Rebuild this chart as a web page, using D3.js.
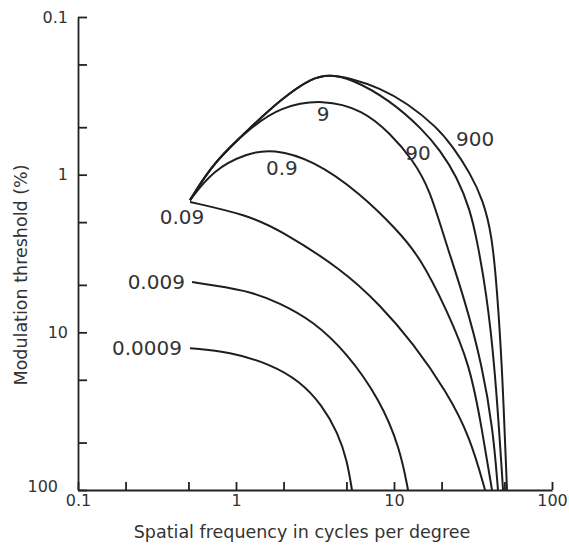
<!DOCTYPE html>
<html lang="en">

<head>
  <title>Modulation threshold</title>
  <script src="https://d3js.org/d3.v7.min.js"></script>
  <style>
    body { margin: 0; background: #fff; }
    text { font-family: "DejaVu Sans", sans-serif; fill: #333; }
  </style>
</head>

<body>
  <script>
    // Curve labels (luminance) and their frequency / threshold points
    const curveNames = ["0.0009", "0.009", "0.09", "0.9", "9", "90", "900"];

    const freq0009 = [0.512, 0.916, 1.641, 2.54, 3.5, 4.42, 5.04, 5.42];
    const thr0009 = [12.6, 13.3, 15.9, 20.4, 28.9, 43.5, 64.6, 100];

    const freq009 = [0.527, 1.175, 1.897, 3.07, 5.04, 8.15, 10.9, 12.27];
    const thr009 = [4.8, 5.39, 6.52, 8.47, 13.5, 26.8, 54.2, 100];

    const freq09 = [0.512, 1.175, 1.897, 4.76, 8.15, 13.2, 21.6, 30.3, 37.7];
    const thr09 = [1.49, 1.8, 2.24, 4.03, 6.71, 11.7, 23.9, 46.1, 100];

    const freq9a = [0.512, 0.715, 1.175, 1.714, 3.07, 6.1, 10.45, 14.6, 21.6, 30.3, 36.1, 41.7];
    const thr9a = [1.45, 0.933, 0.73, 0.687, 0.807, 1.31, 2.24, 3.33, 7.22, 16.1, 41.6, 100];

    const freq9 = [0.512, 0.715, 1.227, 1.897, 3.55, 6.37, 9.43, 13.2, 16.9, 21.0, 28.1, 36.1, 42.4, 45.5];
    const thr9 = [1.45, 0.843, 0.506, 0.372, 0.331, 0.389, 0.545, 0.807, 1.25, 2.6, 6.24, 16.1, 41.6, 100];

    const freq90 = [0.512, 0.715, 1.227, 1.897, 3.07, 3.94, 5.27, 9.43, 15.3, 19.5, 25.1, 30.3, 33.5, 38.2, 43.5, 49.0];
    const thr90 = [1.45, 0.843, 0.506, 0.336, 0.24, 0.233, 0.244, 0.336, 0.521, 0.698, 1.035, 1.67, 2.6, 5.39, 16.1, 100];

    const freq900 = [0.512, 0.715, 1.227, 1.897, 3.07, 3.94, 5.27, 8.15, 12.08, 18.7, 23.6, 30.3, 36.6, 41.7, 44.9, 48.3, 51.9];
    const thr900 = [1.45, 0.843, 0.506, 0.336, 0.24, 0.233, 0.244, 0.282, 0.351, 0.499, 0.667, 0.975, 1.45, 2.41, 5.39, 16.1, 100];

    const allFreqs = [freq0009, freq009, freq09, freq9a, freq9, freq90, freq900];
    const allThrs = [thr0009, thr009, thr09, thr9a, thr9, thr90, thr900];

    // where each curve label sits (frequency, threshold)
    const labelFreq = [0.455, 0.475, 0.455, 1.95, 3.56, 14.2, 32.6];
    const labelThr = [12.6, 4.8, 1.85, 0.91, 0.41, 0.73, 0.59];
    const labelAnchor = ["end", "end", "middle", "middle", "middle", "middle", "middle"];

    // Axis ticks
    const tickVals = [0.1, 0.2, 0.5, 1, 2, 5, 10, 20, 50, 100];
    const tickLabels = { 0.1: "0.1", 1: "1", 10: "10", 100: "100" };

    var W = 569, H = 546;
    var svg = d3.select("body")
      .append("svg")
      .attr("width", W)
      .attr("height", H);

    var x = d3.scaleLog().domain([0.1, 100]).range([78, 552]);
    var y = d3.scaleLog().domain([0.1, 100]).range([17, 490]);

    // Y axis, ticks pointing inwards
    var yAxis = svg.append("g")
      .attr("transform", "translate(78,0)")
      .call(d3.axisLeft(y)
        .tickValues(tickVals)
        .tickSize(-9)
        .tickSizeOuter(0)
        .tickPadding(10)
        .tickFormat(d => tickLabels[d] || ""));
    yAxis.selectAll("text").style("font-size", "16px").attr("fill", "#333");
    // the 100 label sits a little up and left of the corner
    yAxis.selectAll(".tick").filter(d => d === 100).select("text")
      .attr("x", -20).attr("dy", "0.1em");

    // X axis, ticks pointing up
    var xAxis = svg.append("g")
      .attr("transform", "translate(0,490)")
      .call(d3.axisBottom(x)
        .tickValues(tickVals)
        .tickSize(-8)
        .tickSizeOuter(0)
        .tickPadding(5)
        .tickFormat(d => tickLabels[d] || ""));
    xAxis.selectAll("text").style("font-size", "16px").attr("fill", "#333");

    svg.selectAll(".domain, .tick line")
      .attr("stroke", "#222")
      .attr("stroke-width", 1.8);

    // Axis titles
    svg.append("text")
      .attr("x", 302)
      .attr("y", 538)
      .attr("text-anchor", "middle")
      .style("font-size", "17.5px")
      .text("Spatial frequency in cycles per degree");

    svg.append("text")
      .attr("transform", "translate(27,275) rotate(-90)")
      .attr("text-anchor", "middle")
      .style("font-size", "17.5px")
      .text("Modulation threshold (%)");

    // Curves
    var line = d3.line()
      .x(d => x(d[0]))
      .y(d => y(d[1]))
      .curve(d3.curveBasis);

    allFreqs.forEach(function(fs, i) {
      var pts = fs.map((f, j) => [f, allThrs[i][j]]);
      svg.append("path")
        .datum(pts)
        .attr("fill", "none")
        .attr("stroke", "#1e1e1e")
        .attr("stroke-width", 2)
        .attr("d", line);
    });

    // Curve labels
    curveNames.forEach(function(name, i) {
      svg.append("text")
        .attr("x", x(labelFreq[i]))
        .attr("y", y(labelThr[i]))
        .attr("dy", "0.35em")
        .attr("text-anchor", labelAnchor[i])
        .style("font-size", "20px")
        .text(name);
    });
  </script>
</body>

</html>
